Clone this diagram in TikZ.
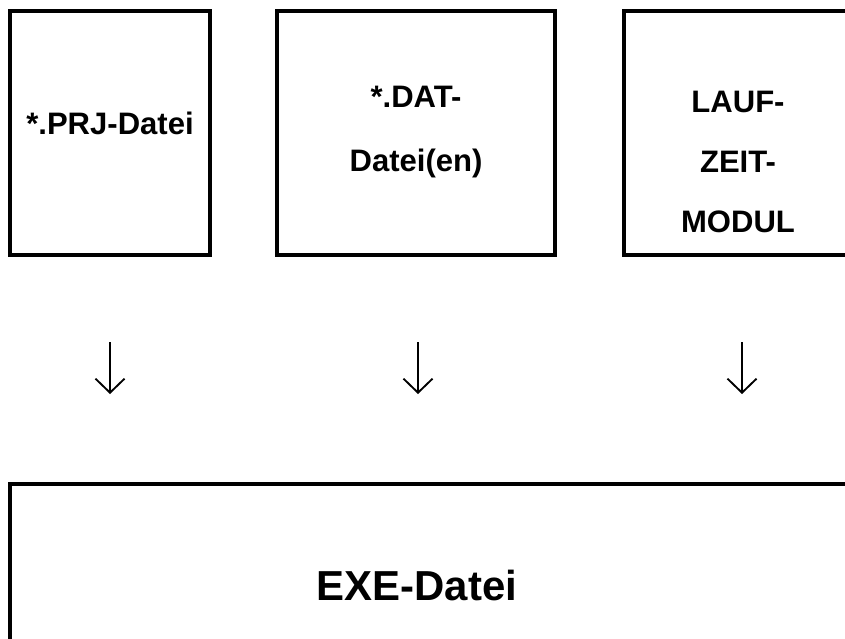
\documentclass[tikz,border=0pt]{standalone}
\usepackage{fontspec}
\setmainfont{Liberation Sans}
\usepackage{tikz}
\usetikzlibrary{arrows.meta}

\begin{document}
\begin{tikzpicture}[x=0.03cm,y=-0.03cm,>={Straight Barb[length=4.2mm,width=8.7mm]},
  box/.style={draw,line width=2.7pt,inner sep=0pt},
  lbl/.style={font=\fontsize{26.5}{54}\selectfont\bfseries,align=center,anchor=base,inner sep=0pt},
  down/.style={->,line width=1.6pt}]
\useasboundingbox (0,0) rectangle (845,638);
\clip (0,0) rectangle (845,638);
% input boxes
\node[box,minimum width=6cm,minimum height=7.32cm] (prj) at (110,133) {};
\node[box,minimum width=8.34cm,minimum height=7.32cm] (dat) at (416,133) {};
\node[box,minimum width=7.02cm,minimum height=7.32cm] (lzm) at (741,133) {};
\node[lbl] (prjtxt) at (110,134) {*.PRJ-Datei};
\node[lbl] (dattxt) at (416,171) {*.DAT-\\Datei(en)};
\node[lbl,font=\fontsize{26.5}{51}\selectfont\bfseries] (lzmtxt) at (738,232) {LAUF-\\ZEIT-\\MODUL};
% arrows
\coordinate (a1) at (110,342); \coordinate (b1) at (110,394);
\coordinate (a2) at (418,342); \coordinate (b2) at (418,394);
\coordinate (a3) at (742,342); \coordinate (b3) at (742,394);
\draw[down] (a1) -- (b1);
\draw[down] (a2) -- (b2);
\draw[down] (a3) -- (b3);
% result
\node[box,minimum width=25.5cm,minimum height=6cm] (exe) at (435,584) {};
\node[lbl,font=\fontsize{35.8}{40}\selectfont\bfseries] (exetxt) at (417,600) {EXE-Datei};
\end{tikzpicture}
\end{document}
